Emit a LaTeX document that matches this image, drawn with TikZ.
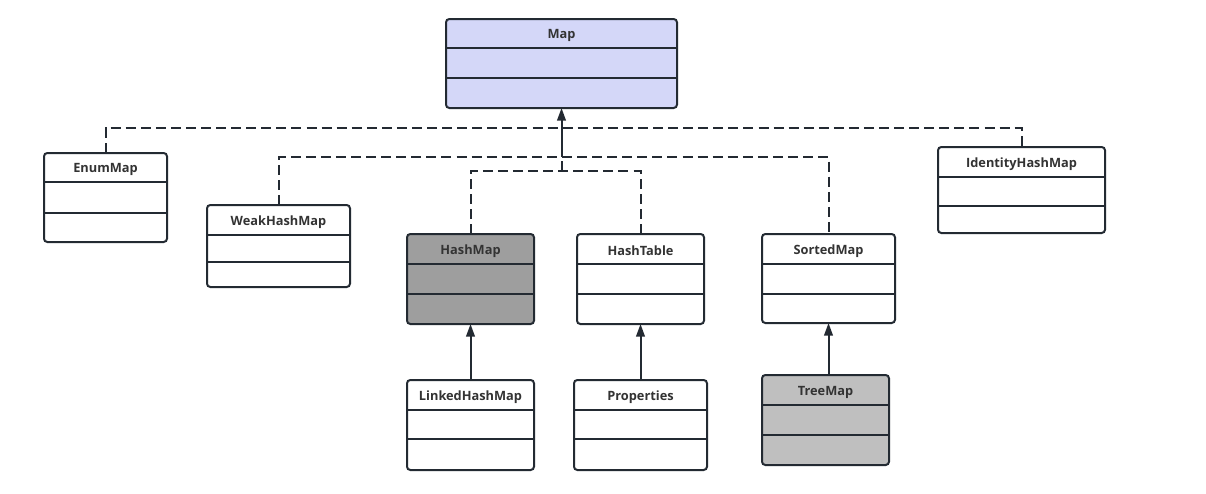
\documentclass[tikz,border=0pt]{standalone}
\usepackage{fontspec}
\setmainfont{Open Sans}
\usetikzlibrary{arrows.meta,calc}
\definecolor{edge}{RGB}{35,42,50}
\definecolor{txt}{RGB}{51,51,51}
\definecolor{mapfill}{RGB}{212,215,248}
\definecolor{hmfill}{RGB}{158,158,158}
\definecolor{tmfill}{RGB}{191,191,191}
\newcommand\umlcls[9]{%
  \node[cls, fill=#8, minimum width={(#4-#2)*0.75pt}, minimum height={(#5-#3)*0.75pt}] (#1) at ({(#2+#4)/2},{(#3+#5)/2}) {};
  \draw[div] (#2,#6) -- (#4,#6);
  \draw[div] (#2,#7) -- (#4,#7);
  \node[ttl] (#1-t) at ({(#2+#4)/2},{(#3+#6)/2+2}) {#9};
}
\begin{document}
\begin{tikzpicture}[x=0.75pt,y=-0.75pt,
  cls/.style={draw=edge, line width=1.5pt, rounded corners=2.5pt, inner sep=0pt, outer sep=0pt},
  div/.style={draw=edge, line width=1.3pt},
  ttl/.style={font=\fontsize{9.6pt}{11pt}\selectfont\bfseries, text=txt, inner sep=0pt},
  dsh/.style={draw=edge, line width=1.5pt, dash pattern=on 7.5pt off 3.8pt},
  arr/.style={draw=edge, line width=1.5pt, -{Triangle[length=9.5pt,width=6.5pt]}}]
\useasboundingbox (0,0) rectangle (1206,493);
\umlcls{map}{446}{19}{677}{108}{48}{78}{mapfill}{Map}
\umlcls{enum}{44}{153}{167}{242}{182}{213}{white}{EnumMap}
\umlcls{weak}{207}{205}{350}{287}{235}{262}{white}{WeakHashMap}
\umlcls{hashmap}{407}{234}{534}{324}{264}{294}{hmfill}{HashMap}
\umlcls{hashtable}{577}{234}{704}{324}{264}{294}{white}{HashTable}
\umlcls{sorted}{762}{234}{895}{323}{264}{294}{white}{SortedMap}
\umlcls{ident}{938}{147}{1105}{233}{177}{206}{white}{IdentityHashMap}
\umlcls{linked}{407}{380}{534}{470}{410}{439}{white}{LinkedHashMap}
\umlcls{props}{574}{380}{707}{470}{410}{439}{white}{Properties}
\umlcls{tree}{762}{375}{889}{465}{405}{435}{tmfill}{TreeMap}
\coordinate (ya) at (0,128);
\coordinate (yb) at (0,157);
\coordinate (yc) at (0,171);
\coordinate (r1) at (map.south |- ya);
\coordinate (r2) at (map.south |- yb);
\coordinate (r3) at (map.south |- yc);
\draw[dsh] (enum.north) |- (r1) -| (ident.north);
\draw[dsh] (weak.north) |- (r2) -| (sorted.north);
\draw[dsh] (hashmap.north) |- (r3) -| (hashtable.north);
\draw[dsh] (r3) -- (r2);
\draw[arr] (r2) -- (map.south);
\draw[arr] (linked.north) -- (hashmap.south);
\draw[arr] (props.north -| hashtable.south) -- (hashtable.south);
\draw[arr] (tree.north -| sorted.south) -- (sorted.south);
\end{tikzpicture}
\end{document}
